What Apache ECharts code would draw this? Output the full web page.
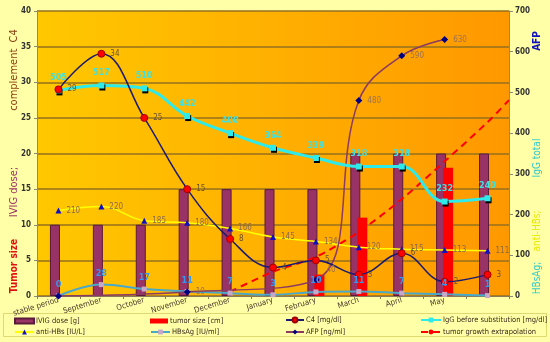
<!DOCTYPE html>
<html><head><meta charset="utf-8">
<script src="https://cdn.jsdelivr.net/npm/echarts@6/dist/echarts.min.js"></script>
<style>html,body{margin:0;padding:0;background:#FFFFA8}#c{width:550px;height:342px}</style>
</head><body><div id="c"></div>
<script>
const categories = ['stable period','September','October','November','December','January','February','March','April','May',''];
const ivigDose  = [10,10,10,15,15,15,15,20,20,20,20];
const tumorSize = [null,null,null,null,null,null,3,11,null,18,null];
const c4        = [29,34,25,15,8,4,5,3,6,2,3];
const igg       = [505,517,510,442,400,364,339,318,318,232,240];
const antiHBs   = [210,220,185,180,166,145,134,120,115,113,111];
const hbsAg     = [0,28,17,11,7,3,10,11,7,4,1];
const afp       = [0,null,null,10,null,null,40,480,590,630,null];
const extrapX   = [4,5,6,7,8,9,10,10.5];
const extrapY   = [0.6,3.4,5.5,9.0,13.6,18.9,24.4,27.5];

const FF = "'Liberation Sans Narrow','DejaVu Sans Condensed','Liberation Sans',sans-serif";
const chart = echarts.init(document.getElementById('c'), null, {renderer:'canvas'});

function leg(name, left, top, w, h, icon){
  const d = {name:name}; if(icon) d.icon = icon;
  return {data:[d], left:left, top:top, itemWidth:w, itemHeight:h, padding:0, itemGap:0,
    textStyle:{fontSize:7.5, color:'#3a2a1a', fontFamily:FF, padding:[0,0,0,-3]}};
}
function vtext(txt, x, y, color, size, weight){
  return {type:'text', x:x, y:y, rotation:Math.PI/2, silent:true,
    style:{text:txt, fill:color, font:(weight||'normal')+' '+size+'px '+FF, textAlign:'center', textVerticalAlign:'middle'}};
}

const option = {
  backgroundColor:'#FFFFA8',
  textStyle:{fontFamily:FF},
  animation:false,
  grid:{left:37, right:41, top:11, bottom:46, show:true, borderWidth:0,
    backgroundColor:{type:'linear', x:0, y:0, x2:1, y2:0, colorStops:[{offset:0,color:'#FFC800'},{offset:1,color:'#FF9800'}]}},
  legend:[
    leg('IVIG dose [g]', 14, 317, 19, 5, 'rect'),
    leg('tumor size [cm]', 150, 317, 18, 5, 'rect'),
    leg('C4 [mg/dl]', 285, 316, 18, 6),
    leg('IgG before substitution [mg/dl]', 420, 316, 20, 6),
    leg('anti-HBs [IU/L]', 14, 328, 19, 6),
    leg('HBsAg [IU/ml]', 150, 328, 19, 6),
    leg('AFP [ng/ml]', 285, 328, 18, 6),
    leg('tumor growth extrapolation', 420, 328, 20, 6)
  ],
  xAxis:[
    {type:'category', data:categories, gridIndex:0,
      axisLine:{onZero:false, lineStyle:{color:'#8a7a5a', width:1}},
      axisTick:{show:true, length:3, lineStyle:{color:'#8a7a5a'}},
      axisLabel:{interval:0, rotate:17, fontSize:8, color:'#4a3a2a', margin:4}},
    {type:'value', min:-0.5, max:10.5, show:false, gridIndex:0}
  ],
  yAxis:[
    {type:'value', min:0, max:40, interval:5,
      axisLine:{show:true, onZero:false, lineStyle:{color:'#8a8a7a'}},
      axisTick:{show:true, length:3, lineStyle:{color:'#8a8a7a'}},
      axisLabel:{fontSize:8, fontWeight:'bold', color:'#333', margin:6},
      splitLine:{lineStyle:{color:'#94701c', width:1.5}}},
    {type:'value', min:0, max:700, interval:100, position:'right',
      axisLine:{show:true, onZero:false, lineStyle:{color:'#8a8a7a'}},
      axisTick:{show:true, length:4, lineStyle:{color:'#8a8a7a'}},
      axisLabel:{fontSize:8, fontWeight:'bold', color:'#333', margin:6},
      splitLine:{show:false}}
  ],
  series:[
    {name:'IVIG dose [g]', type:'bar', data:ivigDose, barWidth:10, barGap:'-30%',
      itemStyle:{color:'#993366', borderColor:'#5a1a3a', borderWidth:1}},
    {name:'tumor size [cm]', type:'bar', data:tumorSize, barWidth:10,
      itemStyle:{color:'#FF0000'}},
    {name:'tumor growth extrapolation', type:'line', xAxisIndex:1, yAxisIndex:0,
      data:extrapX.map((x,i)=>[x, extrapY[i]]), smooth:0.3, symbol:'none',
      lineStyle:{color:'#FF0000', width:2, type:[7,5]}, itemStyle:{color:'#FF0000'}},
    {name:'HBsAg [IU/ml]', type:'line', yAxisIndex:1, data:hbsAg, smooth:0.4,
      symbol:'rect', symbolSize:5,
      lineStyle:{color:'#4AA8C8', width:2}, itemStyle:{color:'#C8A8C8'},
      label:{show:true, position:'top', distance:4, color:'#3399EE', fontSize:9, fontWeight:'bold'}},
    {name:'anti-HBs [IU/L]', type:'line', yAxisIndex:1, data:antiHBs, smooth:0.4,
      symbol:'triangle', symbolSize:6,
      lineStyle:{color:'#FFFF00', width:1.5}, itemStyle:{color:'#1010C0'},
      label:{show:true, position:'right', distance:5, color:'#8a6a4a', fontSize:8}},
    {name:'AFP [ng/ml]', type:'line', yAxisIndex:1, connectNulls:true, smooth:0.4,
      data:afp.map((v,i)=> i===0 ? {value:v, label:{show:false}} : (i===6 ? {value:v, label:{offset:[2,-10]}} : v)),
      symbol:'diamond', symbolSize:7,
      lineStyle:{color:'#8B3A62', width:1.5}, itemStyle:{color:'#000080'},
      label:{show:true, position:'right', distance:5, color:'#9a7050', fontSize:8}},
    {name:'IgG before substitution [mg/dl]', type:'line', yAxisIndex:1, data:igg, smooth:0.4,
      symbol:'rect', symbolSize:6,
      lineStyle:{color:'#2EEAEA', width:3},
      itemStyle:{color:'#2EEAEA', shadowColor:'#000', shadowOffsetX:1, shadowOffsetY:2, shadowBlur:0},
      label:{show:true, position:'top', distance:5, color:'#3FE0E0', fontSize:9, fontWeight:'bold'}},
    {name:'C4 [mg/dl]', type:'line', yAxisIndex:0, data:c4, smooth:0.4,
      symbol:'circle', symbolSize:7,
      lineStyle:{color:'#1a1a70', width:1.5},
      itemStyle:{color:'#FF0000', borderColor:'#a00000', borderWidth:1},
      label:{show:true, position:'right', distance:5, color:'#6a5030', fontSize:8}}
  ],
  graphic:[
    {type:'rect', silent:true, shape:{x:3.5, y:313.5, width:543, height:23},
      style:{fill:'none', stroke:'#E0D870', lineWidth:1}},
    vtext('complement  C4', 14, 70, '#8a4010', 11),
    vtext('IVIG dose;', 14, 192, '#993366', 11),
    vtext('Tumor size', 14, 266, '#E01010', 10, 'bold'),
    vtext('AFP', 537, 41, '#1010C0', 10, 'bold'),
    vtext('IgG total', 537, 158, '#33CCCC', 10),
    vtext('anti-HBs;', 537, 231, '#E8E800', 10),
    vtext('HBsAg;', 537, 278, '#33CCCC', 10)
  ]
};
chart.setOption(option);
</script></body></html>
